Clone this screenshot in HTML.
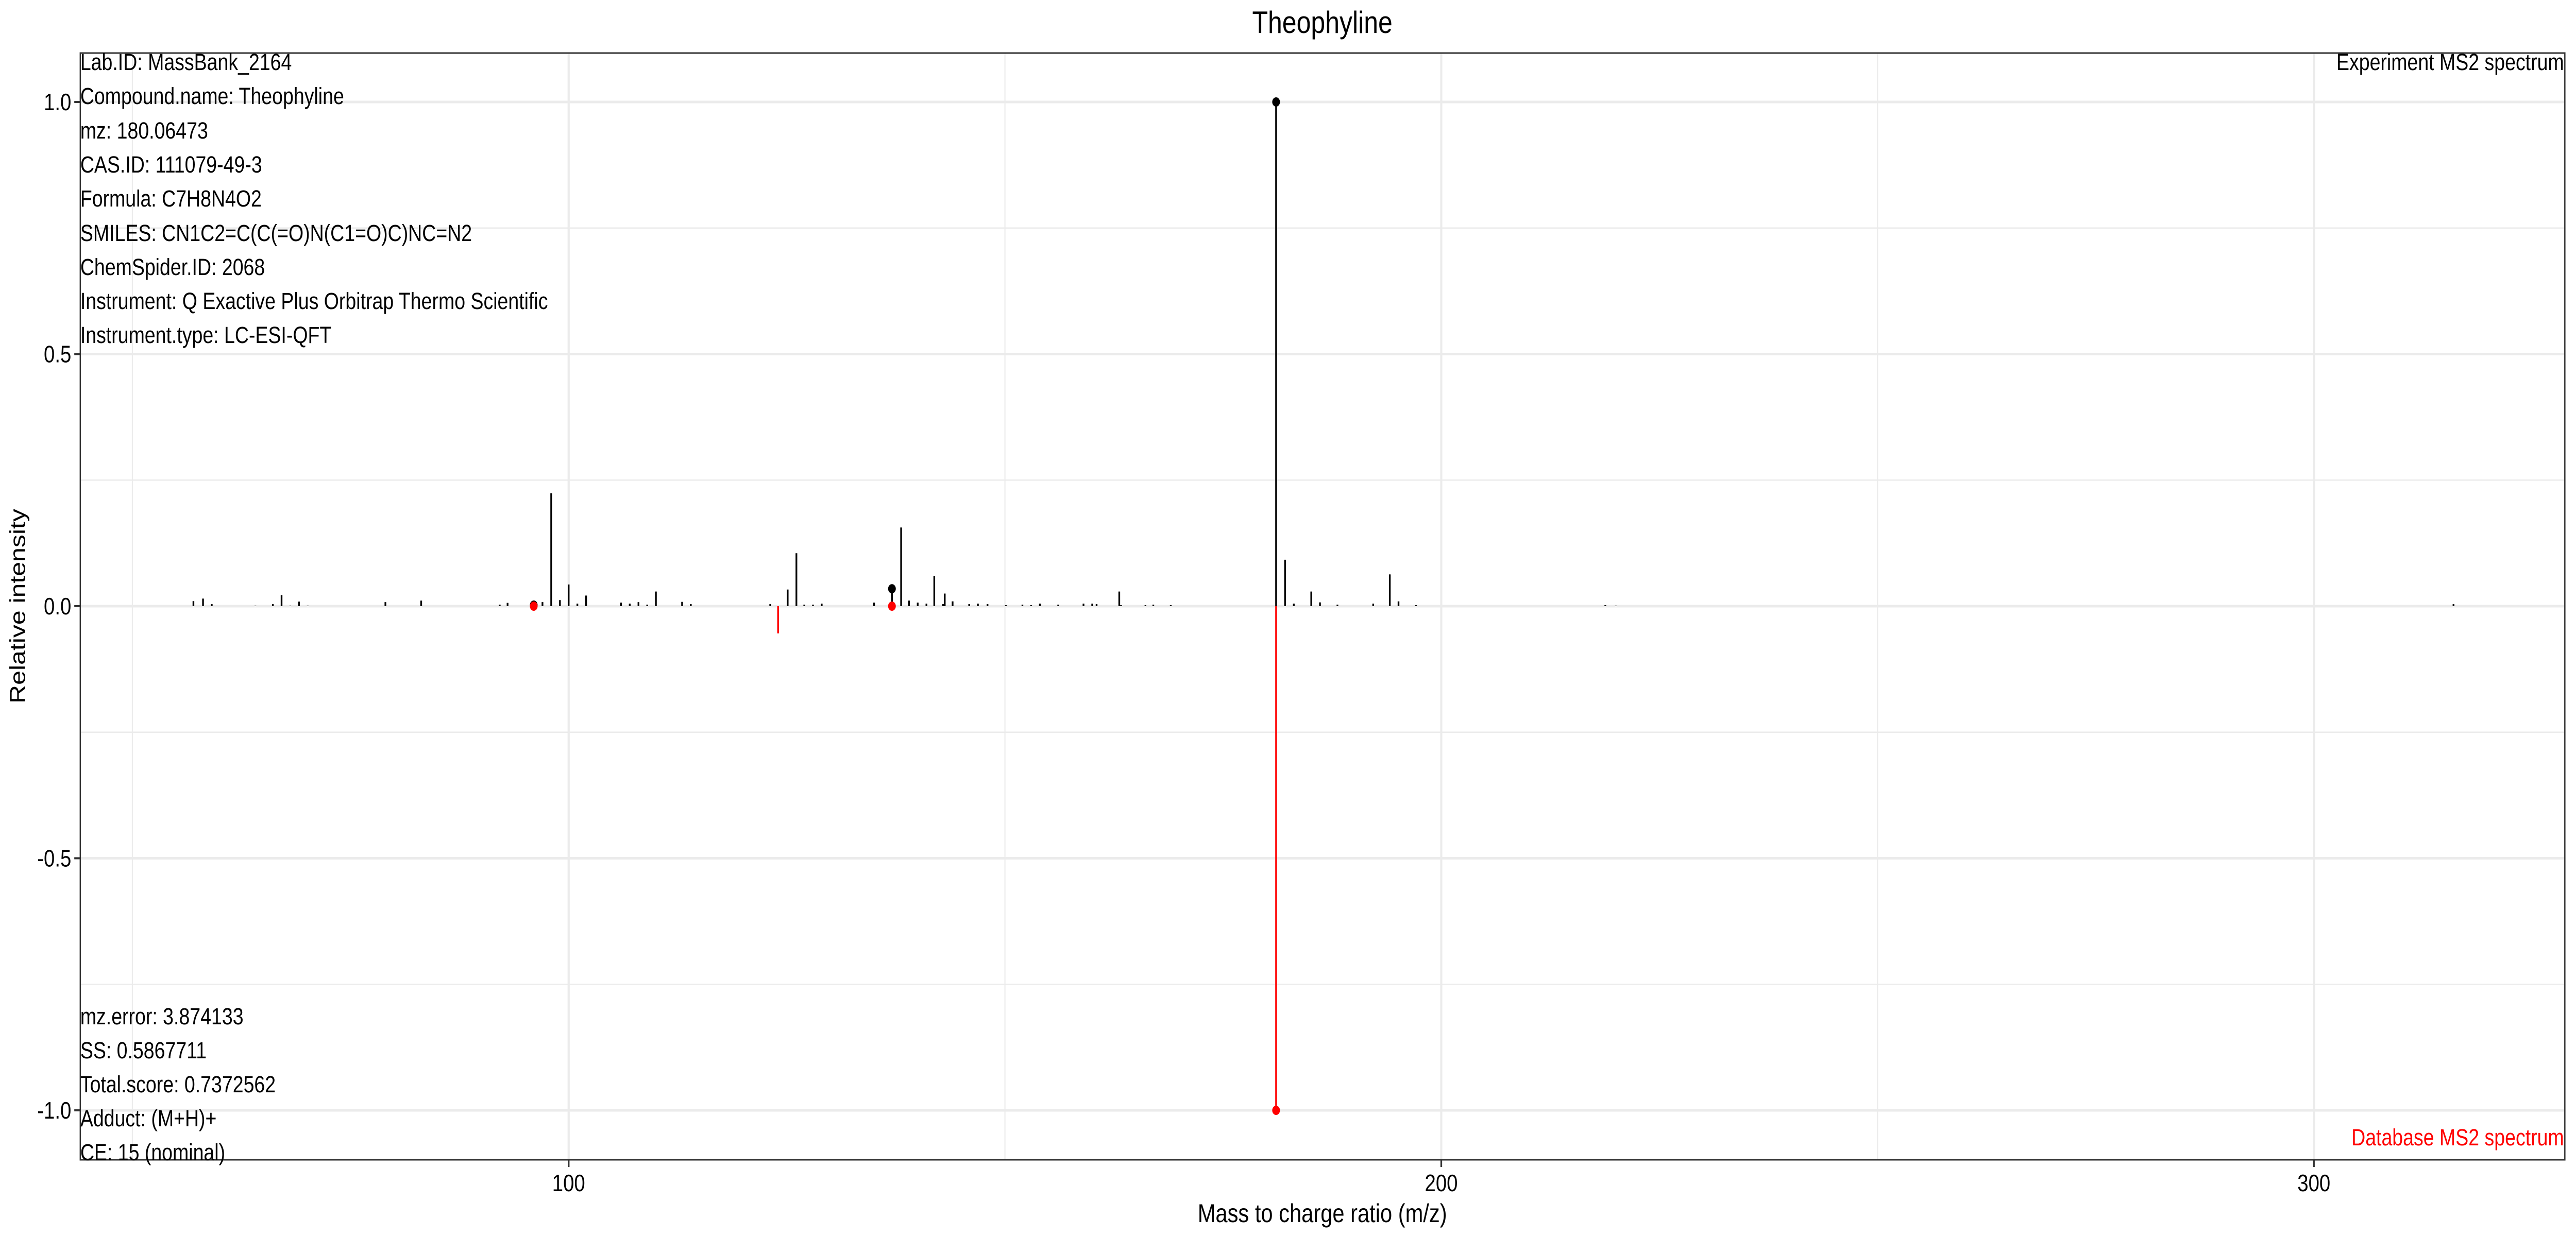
<!DOCTYPE html>
<html><head><meta charset="utf-8"><style>
html,body{margin:0;padding:0;background:#fff;overflow:hidden;width:100%;height:100%;}
svg{display:block;width:100vw;height:100vh;font-family:"Liberation Sans",Arial,sans-serif;}
</style></head><body>
<svg id="chart" viewBox="0 0 6000 2400" preserveAspectRatio="none" xmlns="http://www.w3.org/2000/svg">
<rect x="0" y="0" width="6000" height="2400" fill="#fff"/>
<g id="grid"></g>
<g id="marks"></g>
<rect x="187" y="103" width="5787" height="2149" fill="none" stroke="#333" stroke-width="3"/>
<g id="axes"></g>
<text x="3080" y="64" font-size="60" text-anchor="middle" fill="#000">Theophyline</text>
<text x="3080" y="2373" font-size="50" text-anchor="middle" fill="#000">Mass to charge ratio (m/z)</text>
<text transform="translate(58,1177) rotate(-90)" font-size="50" text-anchor="middle" fill="#000">Relative intensity</text>
<text x="5972" y="136" font-size="45" text-anchor="end" fill="#000">Experiment MS2 spectrum</text>
<text x="5972" y="2224" font-size="45" text-anchor="end" fill="#ff0000">Database MS2 spectrum</text>
<g font-size="45" fill="#000">
<text x="187" y="136">Lab.ID: MassBank_2164</text>
<text x="187" y="202">Compound.name: Theophyline</text>
<text x="187" y="269">mz: 180.06473</text>
<text x="187" y="335">CAS.ID: 111079-49-3</text>
<text x="187" y="401">Formula: C7H8N4O2</text>
<text x="187" y="468">SMILES: CN1C2=C(C(=O)N(C1=O)C)NC=N2</text>
<text x="187" y="534">ChemSpider.ID: 2068</text>
<text x="187" y="600">Instrument: Q Exactive Plus Orbitrap Thermo Scientific</text>
<text x="187" y="666">Instrument.type: LC-ESI-QFT</text>
</g>
<g font-size="45" fill="#000">
<text x="187" y="1989">mz.error: 3.874133</text>
<text x="187" y="2055">SS: 0.5867711</text>
<text x="187" y="2121">Total.score: 0.7372562</text>
<text x="187" y="2187">Adduct: (M+H)+</text>
<text x="187" y="2253">CE: 15 (nominal)</text>
</g>
</svg>
<script>
const expMz = [57.0,58.1,59.1,64.1,66.1,67.1,68.1,69.1,70.1,79.0,83.1,92.1,93.0,96.0,97.0,98.0,99.0,100.0,101.0,102.0,106.0,107.0,108.0,109.0,110.0,113.0,114.0,123.1,125.1,126.1,127.0,128.0,129.0,135.0,137.05,138.1,139.0,140.0,141.0,141.9,142.9,143.1,144.0,145.9,146.9,148.0,150.1,152.0,153.0,154.0,156.1,159.0,160.0,160.5,163.1,163.3,166.1,167.0,169.0,181.07,182.1,183.1,185.1,186.1,188.1,192.2,194.1,195.1,197.1,218.8,220.0,316.0];
const expInt = [0.010,0.015,0.004,0.001,0.004,0.022,0.001,0.009,0.001,0.008,0.011,0.003,0.0065,0.002,0.008,0.224,0.012,0.043,0.005,0.021,0.007,0.005,0.008,0.003,0.029,0.0085,0.004,0.004,0.033,0.105,0.003,0.003,0.005,0.007,0.0345,0.156,0.011,0.007,0.005,0.060,0.004,0.025,0.0095,0.004,0.005,0.004,0.002,0.003,0.002,0.005,0.003,0.005,0.005,0.004,0.029,0.002,0.002,0.003,0.002,1.0,0.092,0.005,0.029,0.0075,0.003,0.005,0.063,0.0095,0.002,0.002,0.001,0.004];
const dbMz = [96.0,124.0,137.05,181.07];
const dbInt = [0.0,0.054,0.0,1.0];
const matchedMz = [96.0,137.05,181.07];
const matchedExp = [0.002,0.0345,1.0];
const matchedDb = [0.0,0.0,1.0];
const xMajor = [100,200,300];
const xMinor = [50,150,250];
const yMajor = [-1,-0.5,0,0.5,1];
const yMinor = [-0.75,-0.25,0.25,0.75];
const yLabels = ["-1.0","-0.5","0.0","0.5","1.0"];

const NS="http://www.w3.org/2000/svg";
const PL=187,PR=5974,PT=103,PB=2252;
function X(v){return 1324.5+(v-100)*20.325;}
function Y(v){return 1177-v*979;}
function mk(tag,attrs,parent){const e=document.createElementNS(NS,tag);for(const k in attrs)e.setAttribute(k,attrs[k]);parent.appendChild(e);return e;}
const grid=document.getElementById('grid'),marks=document.getElementById('marks'),axes=document.getElementById('axes');
xMinor.forEach(v=>{const l=mk('line',{x1:X(v),x2:X(v),y1:PT,y2:PB,stroke:'#ebebeb','stroke-width':2.5},grid);

});
yMinor.forEach(v=>{const l=mk('line',{x1:PL,x2:PR,y1:Y(v),y2:Y(v),stroke:'#ebebeb','stroke-width':2.5},grid);

});
xMajor.forEach(v=>{const l=mk('line',{x1:X(v),x2:X(v),y1:PT,y2:PB,stroke:'#ebebeb','stroke-width':5},grid);


const t=mk('line',{x1:X(v),x2:X(v),y1:PB,y2:PB+14,stroke:'#333','stroke-width':4},axes);


const tx=mk('text',{x:X(v),y:2313,'font-size':46,'text-anchor':'middle',fill:'#000'},axes);tx.textContent=String(v);

});
yMajor.forEach((v,i)=>{const l=mk('line',{x1:PL,x2:PR,y1:Y(v),y2:Y(v),stroke:'#ebebeb','stroke-width':5},grid);


const t=mk('line',{x1:PL-14,x2:PL,y1:Y(v),y2:Y(v),stroke:'#333','stroke-width':4},axes);


const tx=mk('text',{x:166,y:Y(v)+16,'font-size':46,'text-anchor':'end',fill:'#000'},axes);tx.textContent=yLabels[i];

});
expMz.forEach((m,i)=>{const l=mk('line',{x1:X(m),x2:X(m),y1:Y(0),y2:Y(expInt[i]),stroke:'#000','stroke-width':4},marks);

});
dbMz.forEach((m,i)=>{const l=mk('line',{x1:X(m),x2:X(m),y1:Y(0),y2:Y(-dbInt[i]),stroke:'#ff0000','stroke-width':4},marks);

});
matchedMz.forEach((m,i)=>{const c=mk('circle',{cx:X(m),cy:Y(matchedExp[i]),r:9,fill:'#000'},marks);


const d=mk('circle',{cx:X(m),cy:Y(-matchedDb[i]),r:9,fill:'#ff0000'},marks);

});
</script>
</body></html>
